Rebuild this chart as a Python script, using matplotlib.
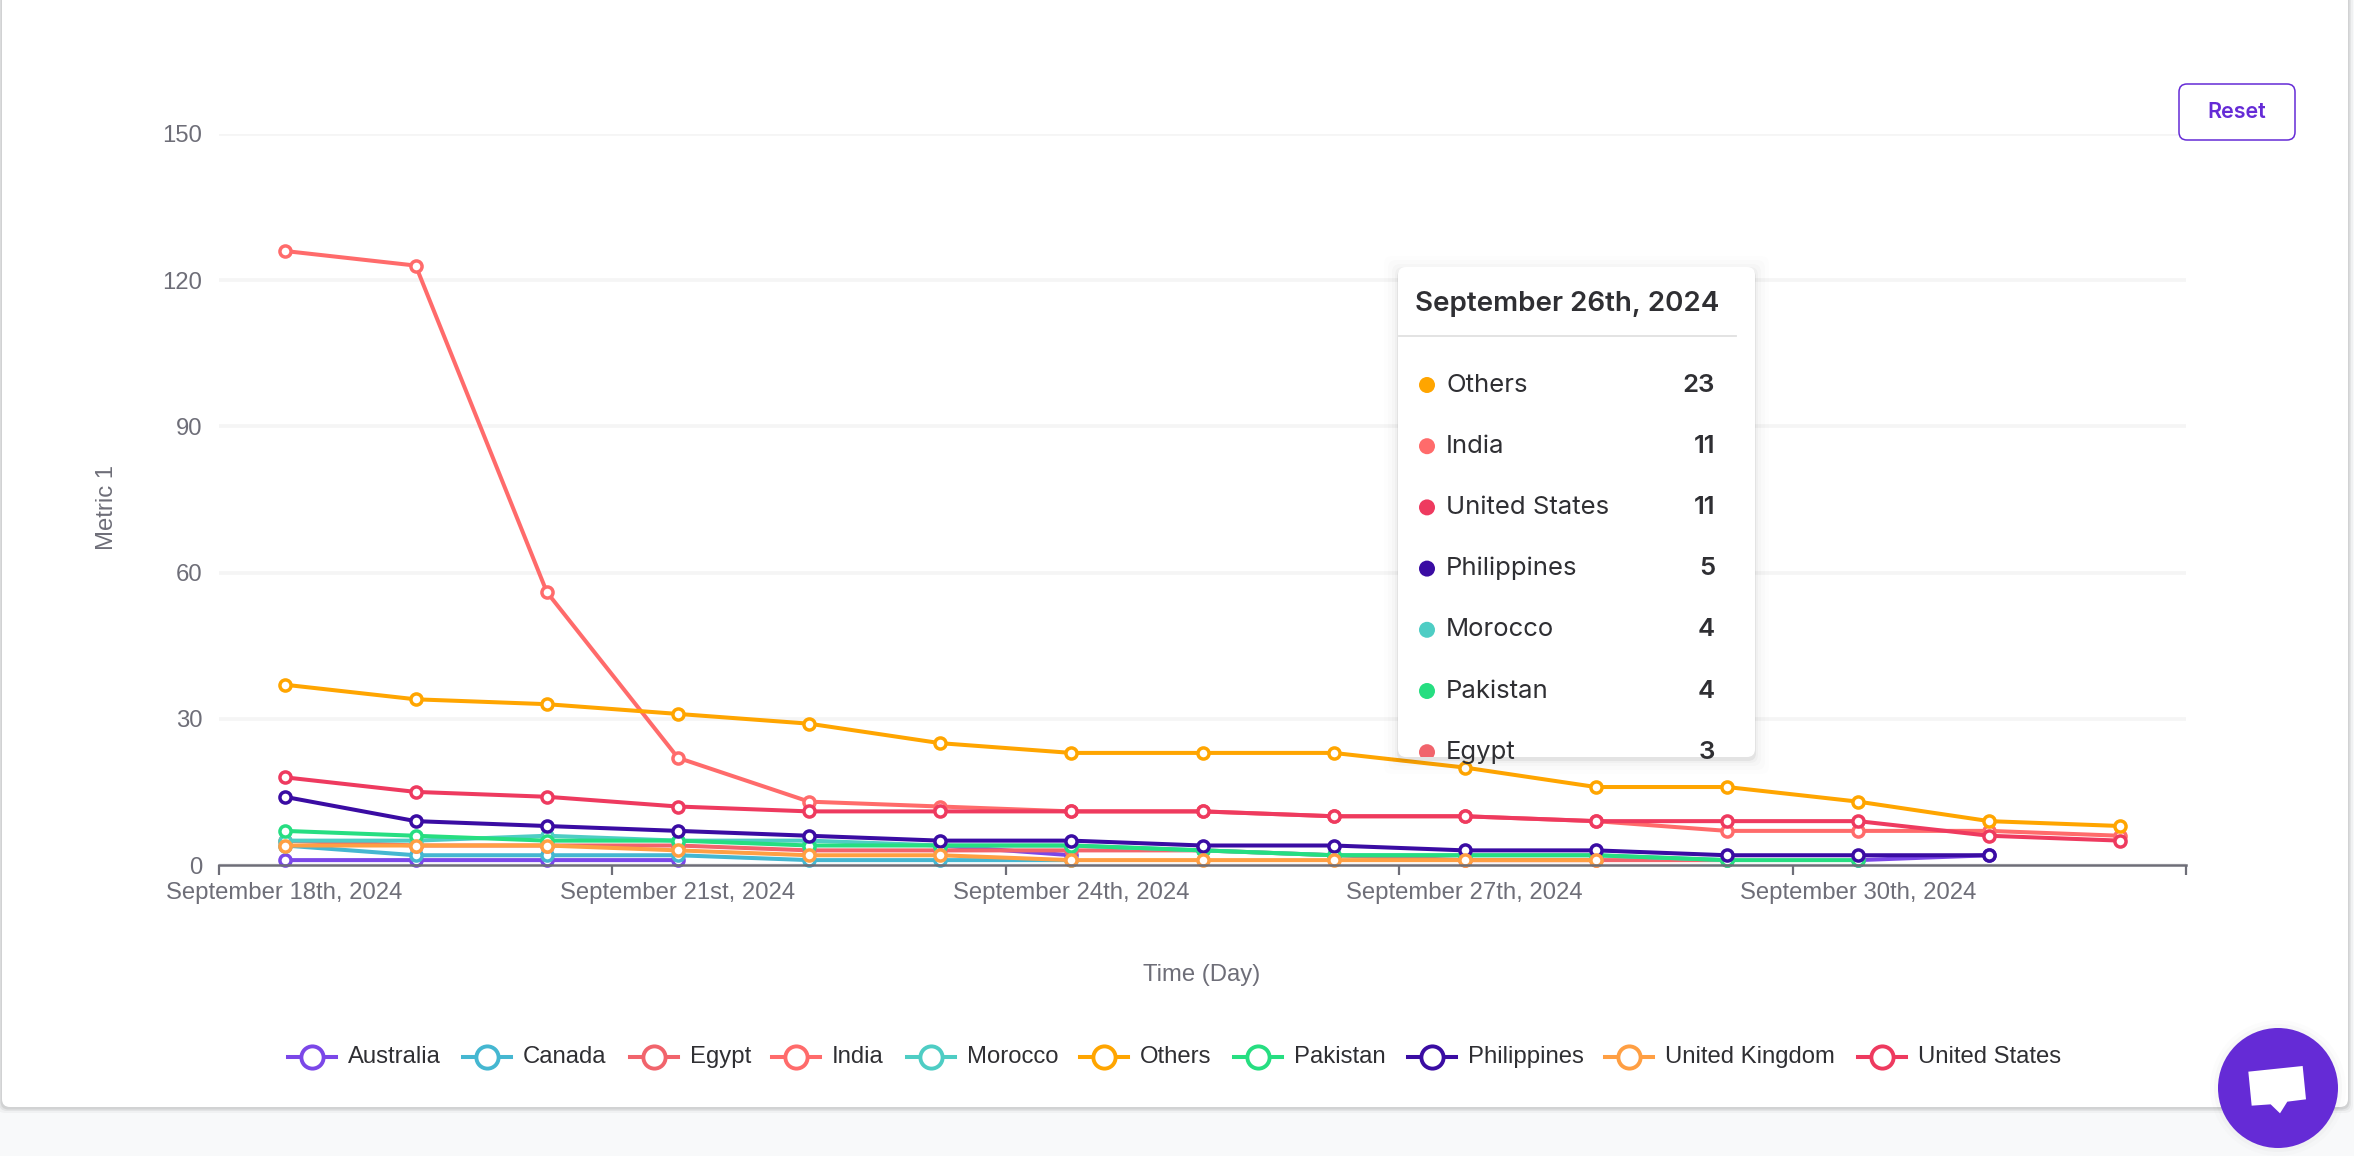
"""
Country metric over time, with the hover tooltip and page furniture
"""
import numpy as np
import matplotlib
matplotlib.use('Agg')
import matplotlib.pyplot as plt
from matplotlib.patches import FancyBboxPatch, Circle, Polygon, Rectangle
from matplotlib.lines import Line2D

nan = np.nan

days = ['September 18th, 2024', 'September 19th, 2024', 'September 20th, 2024',
        'September 21st, 2024', 'September 22nd, 2024', 'September 23rd, 2024',
        'September 24th, 2024', 'September 25th, 2024', 'September 26th, 2024',
        'September 27th, 2024', 'September 28th, 2024', 'September 29th, 2024',
        'September 30th, 2024', 'October 1st, 2024', 'October 2nd, 2024']

australia = [1, 1, 1, 1, nan, 4, 2, nan, nan, nan, nan, nan, 1, 2, nan]
canada = [4, 2, 2, 2, 1, 1, 1, nan, nan, nan, nan, nan, nan, nan, nan]
egypt = [5, 4, 4, 4, 3, 3, 3, 3, 2, 1, 1, 1, nan, nan, nan]
india = [126, 123, 56, 22, 13, 12, 11, 11, 10, 10, 9, 7, 7, 7, 6]
morocco = [5, 5, 6, 5, 5, 4, 4, 3, 2, 2, 2, 1, nan, nan, nan]
others = [37, 34, 33, 31, 29, 25, 23, 23, 23, 20, 16, 16, 13, 9, 8]
pakistan = [7, 6, 5, 5, 4, 4, 4, 3, 2, 2, 2, 1, 1, nan, nan]
philippines = [14, 9, 8, 7, 6, 5, 5, 4, 4, 3, 3, 2, 2, 2, nan]
united_kingdom = [4, 4, 4, 3, 2, 2, 1, 1, 1, 1, 1, nan, nan, nan, nan]
united_states = [18, 15, 14, 12, 11, 11, 11, 11, 10, 10, 9, 9, 9, 6, 5]

names = ['Australia', 'Canada', 'Egypt', 'India', 'Morocco', 'Others',
         'Pakistan', 'Philippines', 'United Kingdom', 'United States']
series = [australia, canada, egypt, india, morocco, others,
          pakistan, philippines, united_kingdom, united_states]
colors = ['#7B47E8', '#45B7D1', '#F1646C', '#FF6B6B', '#4ECDC4', '#FFA500',
          '#26DE81', '#3A0CA3', '#FF9F43', '#EE3A5F']

tooltip_title = 'September 26th, 2024'
tooltip_names = ['Others', 'India', 'United States', 'Philippines', 'Morocco', 'Pakistan', 'Egypt']
tooltip_values = [23, 11, 11, 5, 4, 4, 3]

W, H = 2354, 1156
axis_col = '#6E6E78'
text_col = '#2F2F33'
purple = '#652BD6'
side_font = ['Liberation Sans', 'DejaVu Sans']
ui_font = ['Inter', 'DejaVu Sans']

fig = plt.figure(figsize=(W / 100, H / 100), dpi=100, facecolor='#F8F9FA')

# page layer in pixel coordinates, y going down
bg = fig.add_axes([0, 0, 1, 1], zorder=0)
bg.set_xlim(0, W)
bg.set_ylim(H, 0)
bg.axis('off')
for grow, alpha in [(5, 0.03), (3, 0.05), (1.5, 0.08)]:
    bg.add_patch(FancyBboxPatch((2 - grow, -20), 2346 + 2 * grow, 1127 + grow + 1,
                                boxstyle='round,pad=0,rounding_size=8', fc='#000000', ec='none', alpha=alpha))
bg.add_patch(FancyBboxPatch((2, -20), 2346, 1127, boxstyle='round,pad=0,rounding_size=8',
                            fc='white', ec='none'))

# chart
ax = fig.add_axes([219 / W, 1 - 865 / H, (2186 - 219) / W, (865 - 134) / H], zorder=1)
ax.patch.set_alpha(0)
x = np.arange(len(days))
for name, vals, col in zip(names, series, colors):
    ax.plot(x, vals, color=col, lw=2.9, marker='o', ms=8, mfc='white', mec=col, mew=2.5,
            clip_on=False, label=name, solid_joinstyle='round')

ax.set_xlim(-0.5, 14.5)
ax.set_ylim(0, 150)
ax.set_yticks([0, 30, 60, 90, 120, 150])
ax.set_xticks(x[::3])
ax.set_xticklabels(days[::3])
ax.set_xticks(np.arange(-0.5, 15, 3), minor=True)
ax.grid(True, axis='y', color='#F5F5F5', lw=2.6)
ax.set_axisbelow(True)
for s in ['top', 'right', 'left']:
    ax.spines[s].set_visible(False)
ax.spines['bottom'].set_color(axis_col)
ax.spines['bottom'].set_linewidth(1.8)
ax.tick_params(axis='y', length=0, pad=12, labelsize=17.2, labelcolor=axis_col)
ax.tick_params(axis='x', which='major', length=0, pad=12, labelsize=17.2, labelcolor=axis_col)
ax.tick_params(axis='x', which='minor', length=7, width=1.6, color=axis_col)
for lab in ax.get_xticklabels() + ax.get_yticklabels():
    lab.set_family(side_font)

# overlay for labels, legend, tooltip, button
top = fig.add_axes([0, 0, 1, 1], zorder=2)
top.set_xlim(0, W)
top.set_ylim(H, 0)
top.axis('off')
top.patch.set_alpha(0)

top.text(107, 507, 'Metric 1', rotation=90, ha='center', va='center', fontsize=17.2,
         color=axis_col, family=side_font)
top.text(1202, 975, 'Time (Day)', ha='center', va='center', fontsize=17.2,
         color=axis_col, family=side_font)

# legend
legend_x = [288, 463, 630, 772, 907, 1080, 1234, 1408, 1605, 1858]
for lx, name, col in zip(legend_x, names, colors):
    top.add_line(Line2D([lx, lx + 48], [1057, 1057], color=col, lw=2.9))
    top.add_line(Line2D([lx + 24], [1057], marker='o', ms=16, mfc='white', mec=col, mew=2.8))
    top.text(lx + 60, 1057, name, ha='left', va='center', fontsize=17.2,
             color=text_col, family=side_font)

# tooltip
for grow, alpha in [(14, 0.006), (10, 0.01), (6, 0.015), (3, 0.025), (1, 0.05)]:
    top.add_patch(FancyBboxPatch((1398 - grow, 267 - grow + 3), 357 + 2 * grow, 490 + 2 * grow,
                                 boxstyle='round,pad=0,rounding_size=8', fc='#000000', ec='none', alpha=alpha))
tip = FancyBboxPatch((1398, 267), 357, 490, boxstyle='round,pad=0,rounding_size=8',
                     fc='white', ec='none')
top.add_patch(tip)
top.text(1415, 304, tooltip_title, ha='left', va='center', fontsize=20, fontweight='semibold',
         color=text_col, family=ui_font)
top.add_line(Line2D([1399, 1736], [336, 336], color='#E0E0E0', lw=1.3))
for i, (name, val) in enumerate(zip(tooltip_names, tooltip_values)):
    y = 385 + i * 61.2
    col = colors[names.index(name)]
    dot = Circle((1427, y), 8, fc=col, ec='none')
    top.add_patch(dot)
    dot.set_clip_path(tip)
    t1 = top.text(1446, y, name, ha='left', va='center', fontsize=18.5, color=text_col, family=ui_font)
    t2 = top.text(1715, y, str(val), ha='right', va='center', fontsize=18.5, fontweight='semibold',
                  color=text_col, family=ui_font)
    t1.set_clip_path(tip)
    t2.set_clip_path(tip)

# reset button
top.add_patch(FancyBboxPatch((2179, 84), 116, 56, boxstyle='round,pad=0,rounding_size=8',
                             fc='white', ec=purple, lw=1.1))
top.text(2237, 112, 'Reset', ha='center', va='center', fontsize=15.5, fontweight='semibold',
         color=purple, family=ui_font)

# chat bubble
for grow, alpha in [(8, 0.01), (4, 0.02)]:
    top.add_patch(Circle((2278, 1088), 60 + grow, fc='#000000', ec='none', alpha=alpha))
top.add_patch(Circle((2278, 1088), 60, fc=purple, ec='none'))
bubble = np.array([[895, 335], [1058, 318], [1068, 418], [1012, 425], [990, 460], [962, 433], [905, 437]]) / 3
bubble = bubble + [1950, 960]
top.add_patch(Polygon(bubble, closed=True, fc='white', ec='none'))

plt.savefig('out.png', dpi=100, facecolor=fig.get_facecolor())
